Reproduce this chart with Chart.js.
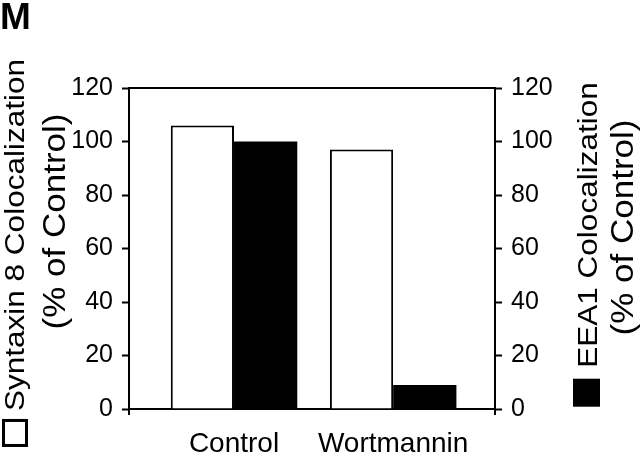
<!DOCTYPE html>
<html>
<head>
<meta charset="utf-8">
<script src="https://cdn.jsdelivr.net/npm/chart.js@4/dist/chart.umd.min.js"></script>
<style>
  html, body { margin: 0; padding: 0; background: #fff; }
  #wrap { width: 640px; height: 457px; position: relative; }
</style>
</head>
<body>
<div id="wrap"><canvas id="c"></canvas></div>
<script>
// data
const categories = ["Control", "Wortmannin"];
const syntaxin8 = [106, 97];   // left axis, open bars
const eea1 = [100, 9];         // right axis, filled bars
const yTicks = [0, 20, 40, 60, 80, 100, 120];
const leftTitle = ["Syntaxin 8 Colocalization", "(% of Control)"];
const rightTitle = ["EEA1 Colocalization", "(% of Control)"];

// x range in group units (groups sit at 1 and 2)
const xMin = 0.34, xMax = 2.64;

const FONT = '"Liberation Sans", Arial, Helvetica, sans-serif';
Chart.defaults.color = "#000";
Chart.defaults.font.family = FONT;

// rotated two-line axis title with its legend square
function drawTitle(ctx, lines, o, filled) {
  ctx.save();
  ctx.fillStyle = "#000";
  ctx.strokeStyle = "#000";
  ctx.textBaseline = "alphabetic";
  ctx.font = "31.5px " + FONT;
  const w1 = ctx.measureText(lines[0]).width;
  const q = 28;
  const total = w1 + o.gap + q;
  // line 1: marker square + text, reading bottom to top
  ctx.save();
  ctx.translate(o.x1, o.cy1);
  ctx.rotate(-Math.PI / 2);
  const s0 = -total / 2;
  if (filled) {
    ctx.fillRect(s0, -24, q, 27);
  } else {
    ctx.lineWidth = 3;
    ctx.fillStyle = "#fff";
    ctx.fillRect(s0 + 1.5, -20.5, q - 3, 23);
    ctx.strokeRect(s0 + 1.5, -20.5, q - 3, 23);
    ctx.fillStyle = "#000";
  }
  ctx.scale(1, 0.88);
  ctx.textAlign = "left";
  ctx.fillText(lines[0], s0 + q + o.gap, 0);
  ctx.restore();
  // line 2
  ctx.save();
  ctx.font = "35px " + FONT;
  ctx.translate(o.x2, o.cy2);
  ctx.rotate(-Math.PI / 2);
  ctx.scale(1, 0.88);
  ctx.textAlign = "center";
  ctx.fillText(lines[1], 0, 0);
  ctx.restore();
  ctx.restore();
}

const frame = {
  id: "frame",
  afterDraw(chart) {
    const { ctx, chartArea: a } = chart;
    ctx.save();
    ctx.strokeStyle = "#000";
    ctx.lineWidth = 2;
    ctx.beginPath();
    ctx.moveTo(a.left - 1, a.top); ctx.lineTo(a.right + 1, a.top);
    ctx.moveTo(a.left, a.bottom); ctx.lineTo(a.left, a.bottom + 6);
    ctx.moveTo(a.right, a.bottom); ctx.lineTo(a.right, a.bottom + 6);
    ctx.stroke();
    ctx.restore();
    const cy = (a.top + a.bottom) / 2;
    drawTitle(ctx, leftTitle,
      { x1: a.left - 105, x2: a.left - 64, cy1: cy + 4.5, cy2: cy - 27, gap: 8 }, false);
    drawTitle(ctx, rightTitle,
      { x1: a.right + 102, x2: a.right + 138, cy1: cy - 4, cy2: cy - 21, gap: 11 }, true);
  }
};

const yAxis = (pos, w) => ({
  type: "linear",
  position: pos,
  min: 0,
  max: 120,
  afterFit: s => { s.width = w; },
  afterBuildTicks: s => { s.ticks = yTicks.map(v => ({ value: v })); },
  border: { display: true, color: "#000", width: 2 },
  grid: { drawOnChartArea: false, drawTicks: true, tickLength: 7, tickWidth: 2, tickColor: "#000" },
  ticks: { padding: 9, font: { size: 25 }, color: "#000" }
});

new Chart(document.getElementById("c"), {
  type: "bar",
  data: {
    datasets: [
      {
        label: "Syntaxin 8",
        data: categories.map((c, i) => ({ x: i + 1, y: syntaxin8[i] })),
        yAxisID: "y",
        backgroundColor: "#fff",
        borderColor: "#000",
        borderWidth: 2,
        borderSkipped: "start"
      },
      {
        label: "EEA1",
        data: categories.map((c, i) => ({ x: i + 1, y: eea1[i] })),
        yAxisID: "y1",
        backgroundColor: "#000",
        borderColor: "#000",
        borderWidth: 0
      }
    ]
  },
  options: {
    responsive: true,
    maintainAspectRatio: false,
    animation: false,
    layout: { padding: 0 },
    categoryPercentage: 0.795,
    barPercentage: 1,
    plugins: {
      legend: { display: false },
      tooltip: { enabled: false },
      title: {
        display: true,
        text: "M",
        align: "start",
        color: "#000",
        font: { size: 37, weight: "bold", lineHeight: 1 },
        padding: { top: 0, bottom: 51 }
      }
    },
    scales: {
      x: {
        type: "linear",
        position: "bottom",
        min: xMin,
        max: xMax,
        offset: false,
        afterFit: s => { s.height = 48; },
        afterBuildTicks: s => { s.ticks = categories.map((c, i) => ({ value: i + 1 })); },
        border: { display: true, color: "#000", width: 2 },
        grid: { display: false, drawTicks: false, tickLength: 0 },
        ticks: {
          padding: 18,
          font: { size: 28 },
          color: "#000",
          maxRotation: 0,
          autoSkip: false,
          callback: v => categories[v - 1]
        }
      },
      y: yAxis("left", 129),
      y1: yAxis("right", 145)
    }
  },
  plugins: [frame]
});
</script>
</body>
</html>
